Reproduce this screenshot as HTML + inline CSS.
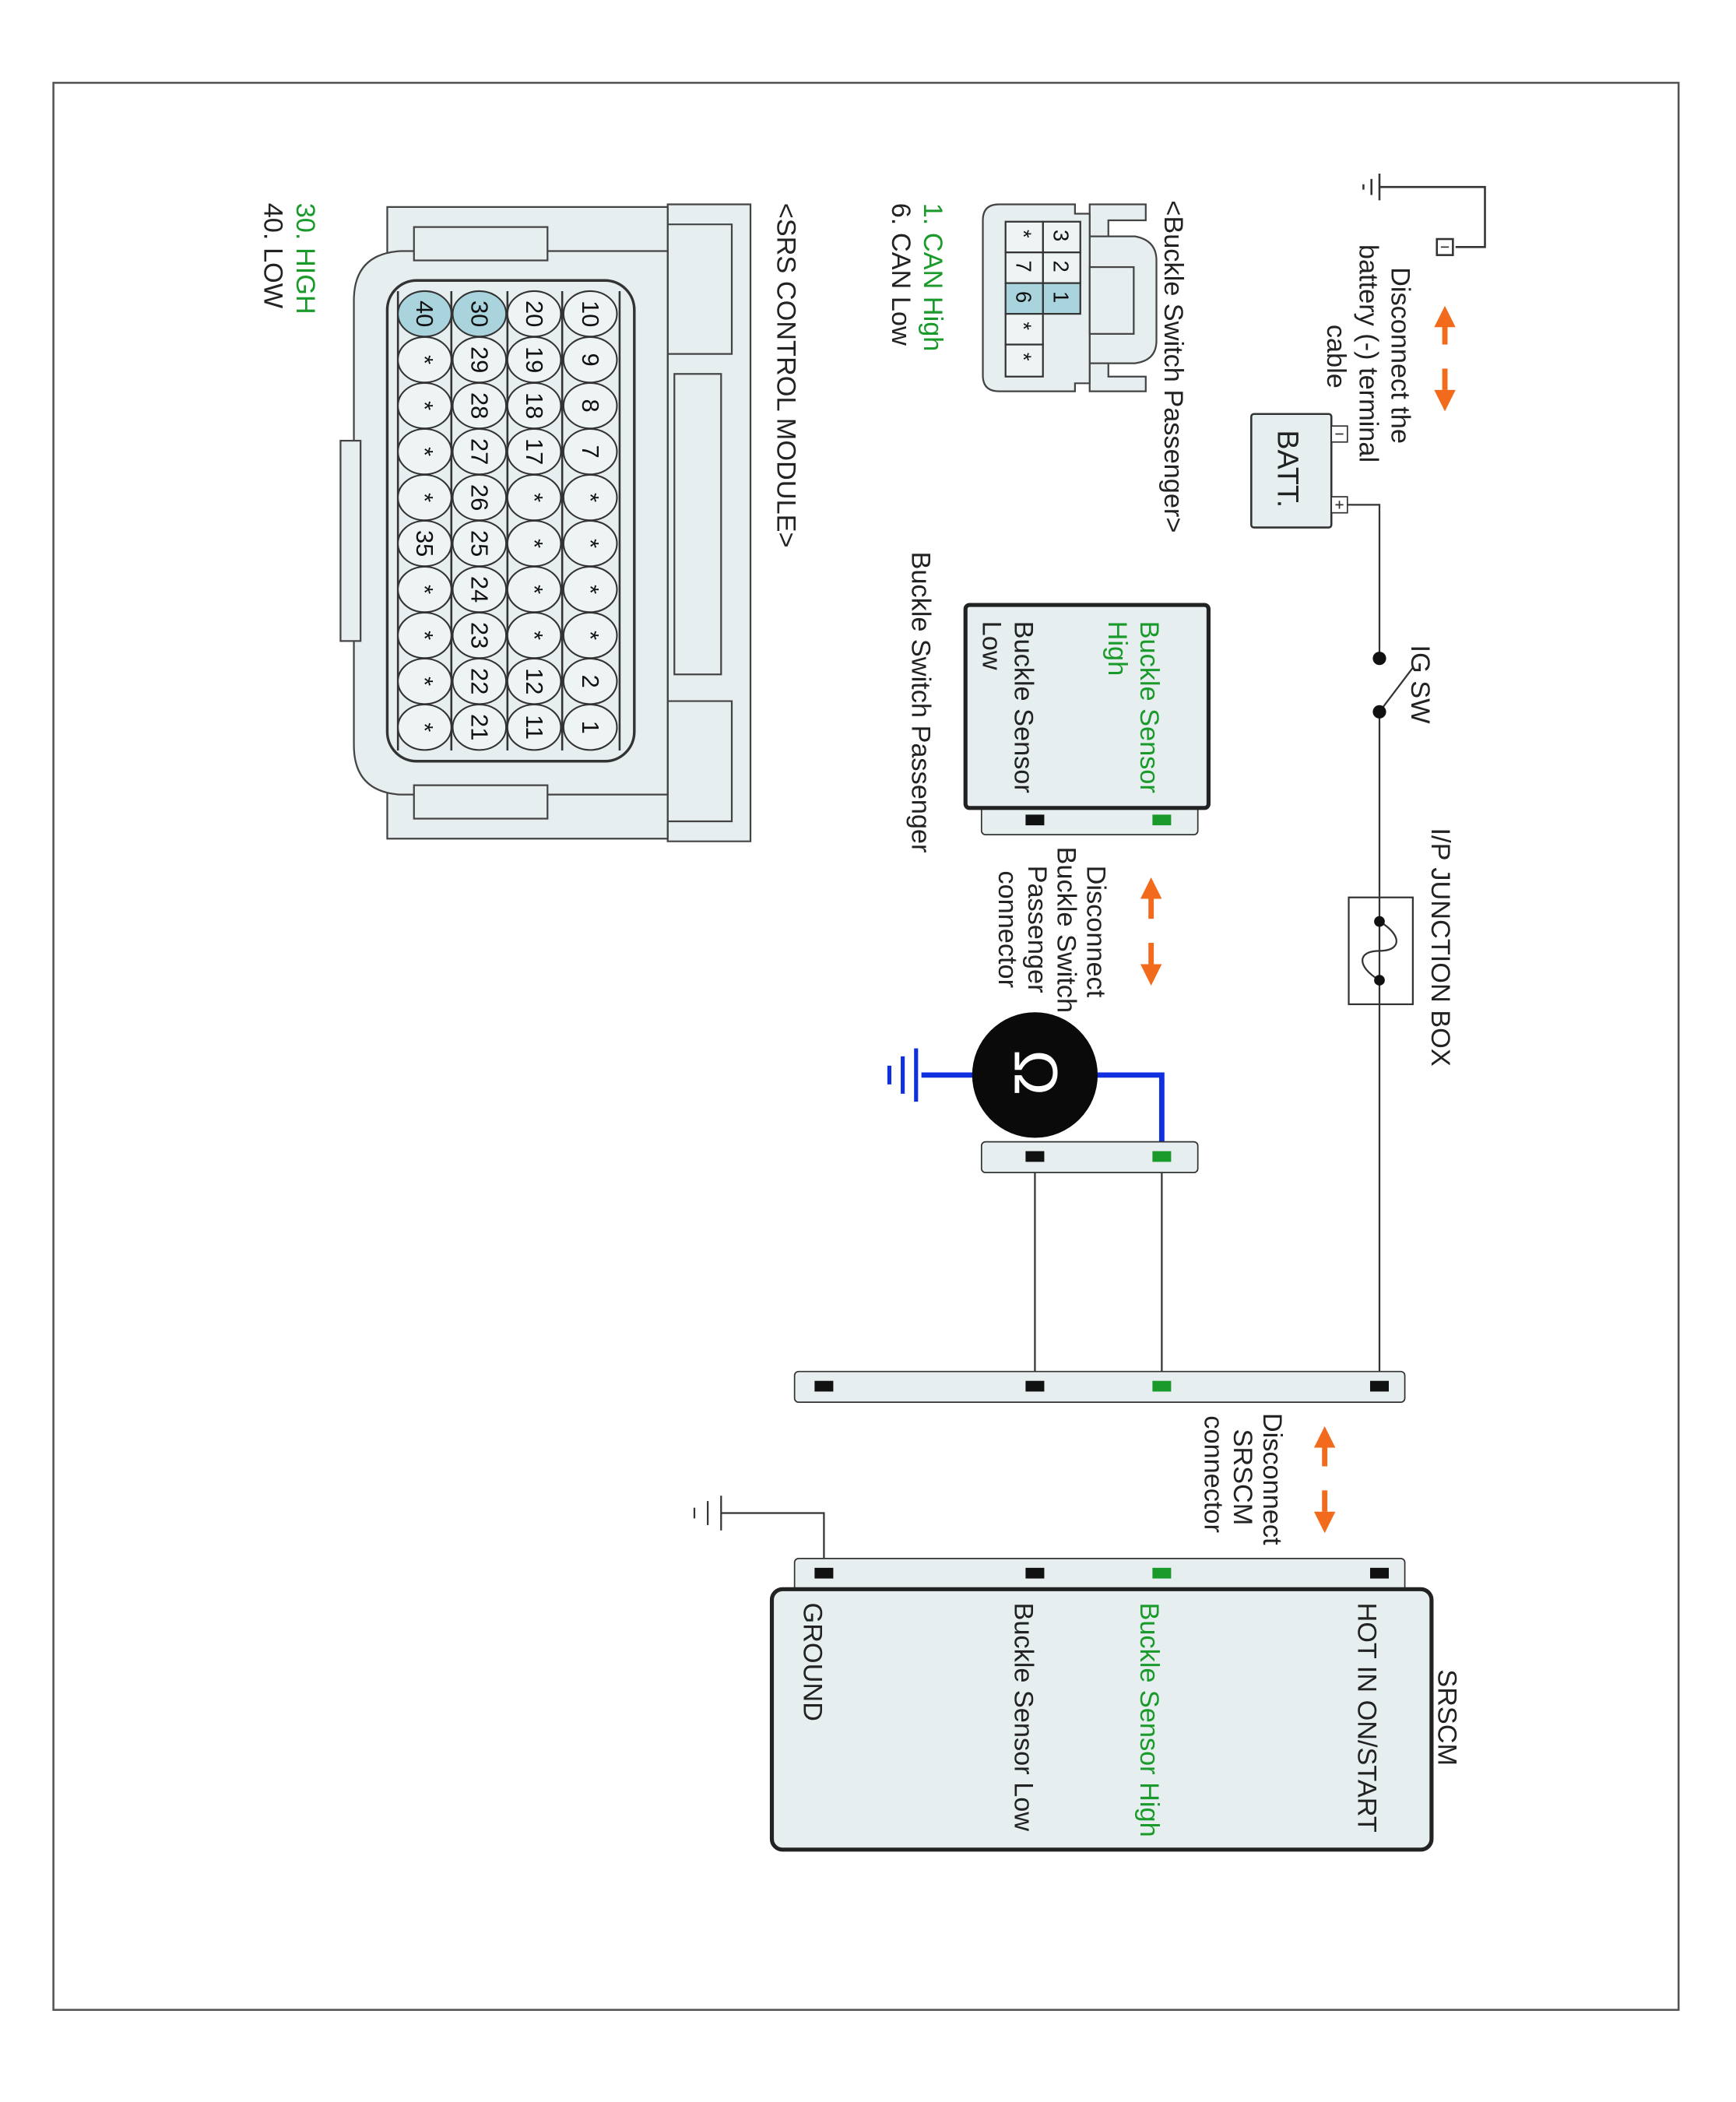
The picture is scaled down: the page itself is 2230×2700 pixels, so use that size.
<!DOCTYPE html>
<html><head><meta charset="utf-8"><style>
html,body{margin:0;padding:0;background:#fff;}
svg{display:block;}
text{font-family:"Liberation Sans",sans-serif;}
</style></head><body>
<svg width="2230" height="2700" viewBox="0 0 1300 1574" preserveAspectRatio="none" xmlns="http://www.w3.org/2000/svg">
<rect x="40" y="62" width="1217" height="1443" fill="none" stroke="#555" stroke-width="1.5"/>

<!-- battery ground -->
<g stroke="#333" stroke-width="1.5" fill="none">
<path d="M1033,140 L1112,140 L1112,185 L1090,185"/>
<line x1="1033" y1="130" x2="1033" y2="150"/><line x1="1027" y1="134" x2="1027" y2="146"/><line x1="1021" y1="138" x2="1021" y2="142"/>
<rect x="1076" y="179" width="12" height="12"/>
</g>
<line x1="1079" y1="185" x2="1085" y2="185" stroke="#333"/>

<!-- orange arrows -->
<g fill="#f26a1b" stroke="#f26a1b" stroke-width="4">
<polygon points="1082,229 1074,245 1090,245" stroke="none"/><line x1="1082" y1="244" x2="1082" y2="258"/>
<line x1="1082" y1="276" x2="1082" y2="292"/><polygon points="1082,308 1074,292 1090,292" stroke="none"/>
<polygon points="862,657 854,673 870,673" stroke="none"/><line x1="862" y1="672" x2="862" y2="688"/>
<line x1="862" y1="706" x2="862" y2="722"/><polygon points="862,738 854,722 870,722" stroke="none"/>
<polygon points="992,1068 984,1084 1000,1084" stroke="none"/><line x1="992" y1="1083" x2="992" y2="1098"/>
<line x1="992" y1="1116" x2="992" y2="1132"/><polygon points="992,1148 984,1132 1000,1132" stroke="none"/>
</g>

<!-- battery -->
<rect x="937" y="310" width="60" height="85" fill="#e6eef0" stroke="#333" stroke-width="1.5" rx="2"/>
<rect x="997" y="319" width="12" height="12" fill="#fff" stroke="#333"/>
<line x1="1000" y1="325" x2="1006" y2="325" stroke="#333"/>
<rect x="997" y="372" width="12" height="12" fill="#fff" stroke="#333"/>
<path d="M1000,378 h6 M1003,375 v6" stroke="#333"/>
<g stroke="#333" stroke-width="1.3" fill="none">
<path d="M1009,378 L1033,378 L1033,493"/>
<path d="M1033,533 L1033,1038"/>
<line x1="1033" y1="533" x2="1058" y2="500"/>
<rect x="1010" y="672" width="48" height="80"/>
<path d="M1033,690 C1050,700 1050,712 1033,712 C1016,712 1016,724 1033,734"/>
<line x1="870" y1="866" x2="870" y2="1038"/>
<line x1="775" y1="866" x2="775" y2="1038"/>
<path d="M617,1178 L617,1133 L540,1133"/>
<line x1="540" y1="1120" x2="540" y2="1146"/><line x1="530" y1="1124" x2="530" y2="1142"/><line x1="520" y1="1129" x2="520" y2="1137"/>
</g>
<circle cx="1033" cy="493" r="5" fill="#111"/><circle cx="1033" cy="533" r="5" fill="#111"/>
<circle cx="1033" cy="690" r="4" fill="#111"/><circle cx="1033" cy="734" r="4" fill="#111"/>

<!-- buckle switch component -->
<rect x="735" y="600" width="162" height="25" fill="#e6eef0" stroke="#333" rx="3"/>
<rect x="723" y="453" width="182" height="152" fill="#e6eef0" stroke="#222" stroke-width="3" rx="3"/>
<rect x="863" y="610" width="14" height="8" fill="#1a9a2a"/>
<rect x="768" y="610" width="14" height="8" fill="#111"/>

<!-- ohmmeter -->
<path d="M870,866 L870,805 L775,805 L690,805" stroke="#1030e0" stroke-width="4" fill="none"/>
<g stroke="#1030e0" stroke-width="3"><line x1="686" y1="785" x2="686" y2="825"/><line x1="676" y1="791" x2="676" y2="819"/><line x1="666" y1="798" x2="666" y2="812"/></g>
<circle cx="775" cy="805" r="47" fill="#0a0a0a"/>
<text transform="translate(760,786) rotate(90)" font-size="46" fill="#fff">Ω</text>
<rect x="735" y="855" width="162" height="23" fill="#e6eef0" stroke="#333" rx="3"/>
<rect x="863" y="862" width="14" height="8" fill="#1a9a2a"/>
<rect x="768" y="862" width="14" height="8" fill="#111"/>

<!-- main connector bar -->
<rect x="595" y="1027" width="457" height="23" fill="#e6eef0" stroke="#333" rx="3"/>
<rect x="1026" y="1034" width="14" height="8" fill="#111"/>
<rect x="863" y="1034" width="14" height="8" fill="#1a9a2a"/>
<rect x="768" y="1034" width="14" height="8" fill="#111"/>
<rect x="610" y="1034" width="14" height="8" fill="#111"/>

<!-- SRSCM -->
<rect x="595" y="1167" width="457" height="25" fill="#e6eef0" stroke="#333" rx="3"/>
<rect x="578" y="1190" width="494" height="195" fill="#e6eef0" stroke="#222" stroke-width="3" rx="8"/>
<rect x="1026" y="1174" width="14" height="8" fill="#111"/>
<rect x="863" y="1174" width="14" height="8" fill="#1a9a2a"/>
<rect x="768" y="1174" width="14" height="8" fill="#111"/>
<rect x="610" y="1174" width="14" height="8" fill="#111"/>

<!-- buckle switch connector drawing -->
<g stroke="#444" stroke-width="1.3" fill="#e6eef0">
<path d="M816,153 L858,153 L858,165 L830,165 L830,282 L858,282 L858,293 L816,293 Z"/>
<path d="M816,177 L850,177 Q866,180 866,195 L866,255 Q866,270 850,272 L816,272 Z"/>
<path d="M736,165 Q736,153 748,153 L805,153 L805,160 L816,160 L816,287 L805,287 L805,293 L748,293 Q736,293 736,281 Z"/>
<rect x="816" y="200" width="33" height="50" fill="#e6eef0"/>
</g>
<g stroke="#333" stroke-width="1.3">
<rect x="781" y="166" width="28" height="23" fill="#eef3f4"/>
<rect x="781" y="189" width="28" height="23" fill="#eef3f4"/>
<rect x="781" y="212" width="28" height="23" fill="#a9d4de"/>
<rect x="753" y="166" width="28" height="23" fill="#eef3f4"/>
<rect x="753" y="189" width="28" height="23" fill="#eef3f4"/>
<rect x="753" y="212" width="28" height="23" fill="#a9d4de"/>
<rect x="753" y="235" width="28" height="23" fill="#eef3f4"/>
<rect x="753" y="258" width="28" height="24" fill="#eef3f4"/>
</g>
<g font-size="16" fill="#111">
<text transform="translate(789,172) rotate(90)">3</text>
<text transform="translate(789,195) rotate(90)">2</text>
<text transform="translate(789,218) rotate(90)">1</text>
<text transform="translate(761,172) rotate(90)">*</text>
<text transform="translate(761,195) rotate(90)">7</text>
<text transform="translate(761,218) rotate(90)">6</text>
<text transform="translate(761,241) rotate(90)">*</text>
<text transform="translate(761,264) rotate(90)">*</text>
</g>

<!-- SRS control module connector -->
<g stroke="#444" stroke-width="1.3" fill="#e6eef0">
<path d="M500,153 L562,153 L562,630 L500,630 Z"/>
<path d="M500,168 L548,168 L548,265 L500,265 Z M500,525 L548,525 L548,615 L500,615 Z"/>
<rect x="505" y="280" width="35" height="225" fill="#e6eef0"/>
<path d="M290,155 L500,155 L500,628 L290,628 Z"/>
<path d="M265,225 Q265,190 300,188 L500,188 L500,595 L300,595 Q265,593 265,558 Z"/>
<rect x="310" y="170" width="100" height="25"/>
<rect x="310" y="588" width="100" height="25"/>
<rect x="255" y="330" width="15" height="150"/>
</g>
<rect x="290" y="210" width="185" height="360" rx="22" fill="#e6eef0" stroke="#333" stroke-width="2"/>
<g stroke="#333" stroke-width="1.5">
<line x1="298" y1="218" x2="298" y2="562"/><line x1="338" y1="218" x2="338" y2="562"/><line x1="380" y1="218" x2="380" y2="562"/><line x1="421" y1="218" x2="421" y2="562"/><line x1="464" y1="218" x2="464" y2="562"/>
</g>
<g stroke="#333" stroke-width="1.2" fill="#eef3f4">
<ellipse cx="442" cy="235" rx="20" ry="17"/><ellipse cx="442" cy="269.4" rx="20" ry="17"/><ellipse cx="442" cy="303.8" rx="20" ry="17"/><ellipse cx="442" cy="338.2" rx="20" ry="17"/><ellipse cx="442" cy="372.6" rx="20" ry="17"/><ellipse cx="442" cy="407" rx="20" ry="17"/><ellipse cx="442" cy="441.4" rx="20" ry="17"/><ellipse cx="442" cy="475.8" rx="20" ry="17"/><ellipse cx="442" cy="510.2" rx="20" ry="17"/><ellipse cx="442" cy="544.6" rx="20" ry="17"/>
<ellipse cx="400" cy="235" rx="20" ry="17"/><ellipse cx="400" cy="269.4" rx="20" ry="17"/><ellipse cx="400" cy="303.8" rx="20" ry="17"/><ellipse cx="400" cy="338.2" rx="20" ry="17"/><ellipse cx="400" cy="372.6" rx="20" ry="17"/><ellipse cx="400" cy="407" rx="20" ry="17"/><ellipse cx="400" cy="441.4" rx="20" ry="17"/><ellipse cx="400" cy="475.8" rx="20" ry="17"/><ellipse cx="400" cy="510.2" rx="20" ry="17"/><ellipse cx="400" cy="544.6" rx="20" ry="17"/>
<ellipse cx="359" cy="235" rx="20" ry="17" fill="#a9d4de"/><ellipse cx="359" cy="269.4" rx="20" ry="17"/><ellipse cx="359" cy="303.8" rx="20" ry="17"/><ellipse cx="359" cy="338.2" rx="20" ry="17"/><ellipse cx="359" cy="372.6" rx="20" ry="17"/><ellipse cx="359" cy="407" rx="20" ry="17"/><ellipse cx="359" cy="441.4" rx="20" ry="17"/><ellipse cx="359" cy="475.8" rx="20" ry="17"/><ellipse cx="359" cy="510.2" rx="20" ry="17"/><ellipse cx="359" cy="544.6" rx="20" ry="17"/>
<ellipse cx="318" cy="235" rx="20" ry="17" fill="#a9d4de"/><ellipse cx="318" cy="269.4" rx="20" ry="17"/><ellipse cx="318" cy="303.8" rx="20" ry="17"/><ellipse cx="318" cy="338.2" rx="20" ry="17"/><ellipse cx="318" cy="372.6" rx="20" ry="17"/><ellipse cx="318" cy="407" rx="20" ry="17"/><ellipse cx="318" cy="441.4" rx="20" ry="17"/><ellipse cx="318" cy="475.8" rx="20" ry="17"/><ellipse cx="318" cy="510.2" rx="20" ry="17"/><ellipse cx="318" cy="544.6" rx="20" ry="17"/>
</g>
<g font-size="18" fill="#111" text-anchor="middle">
<text transform="translate(436,235) rotate(90)">10</text><text transform="translate(436,269.4) rotate(90)">9</text><text transform="translate(436,303.8) rotate(90)">8</text><text transform="translate(436,338.2) rotate(90)">7</text><text transform="translate(436,372.6) rotate(90)">*</text><text transform="translate(436,407) rotate(90)">*</text><text transform="translate(436,441.4) rotate(90)">*</text><text transform="translate(436,475.8) rotate(90)">*</text><text transform="translate(436,510.2) rotate(90)">2</text><text transform="translate(436,544.6) rotate(90)">1</text>
<text transform="translate(394,235) rotate(90)">20</text><text transform="translate(394,269.4) rotate(90)">19</text><text transform="translate(394,303.8) rotate(90)">18</text><text transform="translate(394,338.2) rotate(90)">17</text><text transform="translate(394,372.6) rotate(90)">*</text><text transform="translate(394,407) rotate(90)">*</text><text transform="translate(394,441.4) rotate(90)">*</text><text transform="translate(394,475.8) rotate(90)">*</text><text transform="translate(394,510.2) rotate(90)">12</text><text transform="translate(394,544.6) rotate(90)">11</text>
<text transform="translate(353,235) rotate(90)">30</text><text transform="translate(353,269.4) rotate(90)">29</text><text transform="translate(353,303.8) rotate(90)">28</text><text transform="translate(353,338.2) rotate(90)">27</text><text transform="translate(353,372.6) rotate(90)">26</text><text transform="translate(353,407) rotate(90)">25</text><text transform="translate(353,441.4) rotate(90)">24</text><text transform="translate(353,475.8) rotate(90)">23</text><text transform="translate(353,510.2) rotate(90)">22</text><text transform="translate(353,544.6) rotate(90)">21</text>
<text transform="translate(312,235) rotate(90)">40</text><text transform="translate(312,269.4) rotate(90)">*</text><text transform="translate(312,303.8) rotate(90)">*</text><text transform="translate(312,338.2) rotate(90)">*</text><text transform="translate(312,372.6) rotate(90)">*</text><text transform="translate(312,407) rotate(90)">35</text><text transform="translate(312,441.4) rotate(90)">*</text><text transform="translate(312,475.8) rotate(90)">*</text><text transform="translate(312,510.2) rotate(90)">*</text><text transform="translate(312,544.6) rotate(90)">*</text>
</g>

<!-- all labels on top -->
<g font-size="20" fill="#222">
<text transform="translate(1042,200) rotate(90)">Disconnect the</text>
<text transform="translate(1018,183) rotate(90)">battery (-) terminal</text>
<text transform="translate(994,243) rotate(90)">cable</text>
<text transform="translate(957,322) rotate(90)" font-size="22">BATT.</text>
<text transform="translate(1057,483) rotate(90)">IG SW</text>
<text transform="translate(1072,620) rotate(90)">I/P JUNCTION BOX</text>
<text transform="translate(814,648) rotate(90)">Disconnect</text>
<text transform="translate(792,634) rotate(90)">Buckle Switch</text>
<text transform="translate(770,648) rotate(90)">Passenger</text>
<text transform="translate(748,652) rotate(90)">connector</text>
<text transform="translate(683,413) rotate(90)">Buckle Switch Passenger</text>
<text transform="translate(946,1058) rotate(90)">Disconnect</text>
<text transform="translate(924,1070) rotate(90)">SRSCM</text>
<text transform="translate(902,1060) rotate(90)">connector</text>
<text transform="translate(1077,1250) rotate(90)">SRSCM</text>
<text transform="translate(1017,1200) rotate(90)">HOT IN ON/START</text>
<text transform="translate(854,1200) rotate(90)" fill="#1a9a2a">Buckle Sensor High</text>
<text transform="translate(760,1200) rotate(90)">Buckle Sensor Low</text>
<text transform="translate(602,1200) rotate(90)">GROUND</text>
<text transform="translate(872,150) rotate(90)">&lt;Buckle Switch Passenger&gt;</text>
<text transform="translate(692,152) rotate(90)" fill="#1a9a2a">1. CAN High</text>
<text transform="translate(668,152) rotate(90)">6. CAN Low</text>
<text transform="translate(582,152) rotate(90)">&lt;SRS CONTROL MODULE&gt;</text>
<text transform="translate(222,152) rotate(90)" fill="#1a9a2a">30. HIGH</text>
<text transform="translate(198,152) rotate(90)">40. LOW</text>
<text transform="translate(854,465) rotate(90)" fill="#1a9a2a">Buckle Sensor</text>
<text transform="translate(830,465) rotate(90)" fill="#1a9a2a">High</text>
<text transform="translate(760,465) rotate(90)">Buckle Sensor</text>
<text transform="translate(736,465) rotate(90)">Low</text>
</g>
</svg>
</body></html>
